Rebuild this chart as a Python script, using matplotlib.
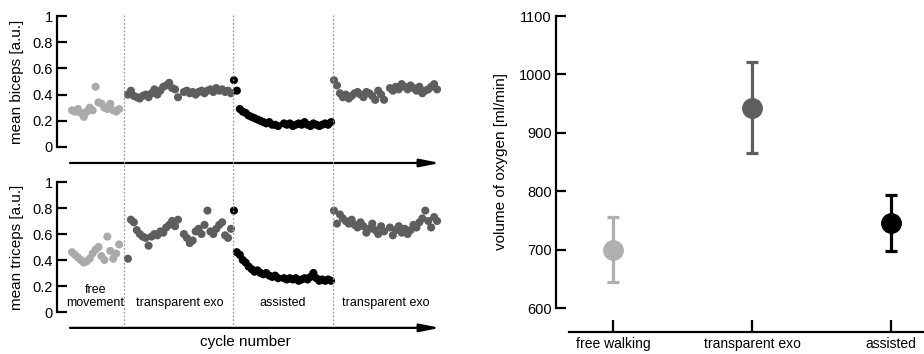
import numpy as np
import matplotlib
matplotlib.use("Agg")
import matplotlib.pyplot as plt
from matplotlib import transforms
from matplotlib.lines import Line2D

plt.rcParams['font.family'] = ['Liberation Sans', 'DejaVu Sans']

nan = np.nan

# per-cycle mean EMG, one list per phase (nan = missing cycle)
phases = ["free\nmovement", "transparent exo", "assisted", "transparent exo"]
phase_colors = ["#aaaaaa", "#5e5e5e", "#000000", "#5e5e5e"]
phase_gap = [0, 2, 0, 0]  # cycles skipped before each phase

biceps = [
    [0.28, 0.27, 0.29, 0.26, 0.23, 0.27, 0.30, 0.28, 0.46, 0.34, 0.33, 0.30,
     0.29, 0.33, 0.28, 0.27, 0.29],
    [0.40, 0.43, 0.39, 0.38, 0.37, 0.39, 0.40, 0.38, 0.41, 0.44, 0.40, 0.43,
     0.46, 0.47, 0.49, 0.45, 0.44, 0.38, nan, 0.42, 0.43, 0.41, 0.42, 0.40,
     0.42, 0.43, 0.41, 0.43, 0.44, 0.42, 0.45, 0.43, 0.44, 0.42, 0.43, 0.41],
    [0.51, 0.43, 0.29, 0.27, 0.26, 0.24, 0.23, 0.22, 0.21, 0.20, 0.19, 0.18,
     0.19, 0.17, 0.17, 0.16, nan, 0.18, 0.17, 0.18, 0.16, 0.17, 0.18, 0.17,
     0.19, 0.17, 0.16, 0.18, 0.17, 0.16, 0.17, 0.18, 0.17, 0.19],
    [0.51, 0.47, 0.41, 0.38, 0.40, 0.37, 0.39, 0.41, 0.42, 0.40, 0.38, 0.42,
     0.41, 0.39, 0.36, 0.43, 0.40, 0.36, nan, 0.45, 0.43, 0.46, 0.44, 0.48,
     0.46, 0.44, 0.47, 0.45, 0.43, 0.46, 0.41, 0.43, 0.44, 0.46, 0.48, 0.44],
]
triceps = [
    [0.46, 0.44, 0.42, 0.40, 0.38, 0.39, 0.41, 0.45, 0.48, 0.50, 0.43, 0.40,
     0.58, 0.47, 0.41, 0.45, 0.52],
    [0.41, 0.71, 0.69, 0.63, 0.60, 0.58, 0.57, 0.51, 0.58, 0.60, 0.59, 0.62,
     0.61, 0.65, 0.67, 0.70, 0.66, 0.71, nan, 0.60, 0.57, 0.53, 0.55, 0.62,
     0.64, 0.60, 0.67, 0.78, 0.62, 0.60, 0.64, 0.67, 0.69, 0.59, 0.57, 0.64],
    [0.78, 0.46, 0.44, 0.40, 0.38, 0.35, 0.33, 0.31, 0.32, 0.30, 0.29, 0.30,
     0.28, 0.27, 0.28, 0.26, nan, 0.26, 0.25, 0.26, 0.25, 0.26, 0.24, 0.25,
     0.26, 0.25, 0.27, 0.30, 0.26, 0.24, 0.25, 0.24, 0.25, 0.24],
    [0.78, 0.68, 0.75, 0.72, 0.70, 0.68, 0.71, 0.67, 0.65, 0.69, 0.66, 0.61,
     0.64, 0.68, 0.63, 0.60, 0.66, 0.62, nan, 0.65, 0.59, 0.63, 0.66, 0.61,
     0.64, 0.60, 0.63, 0.67, 0.65, 0.69, 0.72, 0.78, 0.70, 0.65, 0.73, 0.70],
]
boundaries = [17.5, 54.7, 88.6]

# oxygen consumption
conditions = ["free walking", "transparent exo", "assisted"]
vo2_mean = [700, 943, 745]
vo2_low = [645, 865, 698]
vo2_high = [755, 1022, 793]
cond_colors = ["#b0b0b0", "#5e5e5e", "#000000"]

# cycle numbers for each phase
cycles = []
start = 0
for vals, g in zip(biceps, phase_gap):
    start += g
    cycles.append(np.arange(start, start + len(vals)))
    start += len(vals)

W, H = 924, 354
fig = plt.figure(figsize=(W / 100, H / 100), dpi=100)


def px_axes(x0, y0, x1, y1):
    # pixel box (top-left origin) -> figure axes
    return fig.add_axes([x0 / W, 1 - y1 / H, (x1 - x0) / W, (y1 - y0) / H])


def style_left(ax):
    for s in ["top", "right", "bottom"]:
        ax.spines[s].set_visible(False)
    ax.spines["left"].set_linewidth(1.6)
    ax.tick_params(axis="y", direction="in", length=7, width=1.6,
                   labelsize=10.5, pad=3)
    ax.tick_params(axis="x", bottom=False, labelbottom=False)


ax_b = px_axes(57, 16, 445, 147)
ax_t = px_axes(57, 182, 445, 312)

for ax, data, lab in [(ax_b, biceps, "mean biceps [a.u.]"),
                      (ax_t, triceps, "mean triceps [a.u.]")]:
    for x, vals, c in zip(cycles, data, phase_colors):
        ax.scatter(x, vals, s=34, color=c, edgecolors="none", zorder=3,
                   clip_on=False)
    ax.set_xlim(-5.1, 126.7)
    ax.set_ylim(0, 1)
    ax.set_yticks([0, 0.2, 0.4, 0.6, 0.8, 1])
    ax.set_yticklabels(["0", "0.2", "0.4", "0.6", "0.8", "1"])
    style_left(ax)
    ax.set_ylabel(lab, fontsize=11)
    ax.yaxis.set_label_coords(-0.085, 0.5)
    ax.annotate("", xy=(125, -0.122), xytext=(-0.7, -0.122),
                arrowprops=dict(arrowstyle="-|>,head_length=1.0,head_width=0.2",
                                color="black", lw=1.6, mutation_scale=12,
                                shrinkA=0, shrinkB=0),
                annotation_clip=False)

# phase dividers across both panels
tr = transforms.blended_transform_factory(ax_t.transData, fig.transFigure)
for b in boundaries:
    fig.add_artist(Line2D([b, b], [1 - 15 / H, 1 - 325 / H], transform=tr,
                          color="#9a9a9a", lw=0.9, ls=(0, (1.5, 1.5))))

for x, name in zip(cycles, phases):
    ax_t.text((x[0] + x[-1]) / 2, 0.025, name, ha="center", va="bottom",
              fontsize=9, linespacing=1.1)

fig.text(245 / W, 1 - 342 / H, "cycle number", ha="center", va="center",
         fontsize=11)

# right panel
ax_r = px_axes(556, 16, 924, 308)
xpos = np.arange(len(conditions))
for i in xpos:
    ax_r.errorbar(xpos[i], vo2_mean[i],
                  yerr=[[vo2_mean[i] - vo2_low[i]], [vo2_high[i] - vo2_mean[i]]],
                  fmt="o", color=cond_colors[i], ms=14, elinewidth=2.3,
                  capsize=4.5, capthick=2.3, zorder=3)
ax_r.set_xlim(-0.41, 2.237)
ax_r.set_ylim(600, 1100)
ax_r.set_yticks(range(600, 1101, 100))
ax_r.set_xticks(xpos)
ax_r.set_xticklabels(conditions, fontsize=11)
for s in ["top", "right"]:
    ax_r.spines[s].set_visible(False)
ax_r.spines["left"].set_linewidth(1.6)
ax_r.spines["bottom"].set_linewidth(1.6)
ax_r.spines["bottom"].set_position(("outward", 17))
ax_r.spines["bottom"].set_bounds(-0.317, 2.237)
ax_r.tick_params(axis="y", direction="in", length=7, width=1.6,
                 labelsize=10.5, pad=3)
ax_r.tick_params(axis="x", direction="in", length=9, width=1.6, pad=4)
ax_r.set_ylabel("volume of oxygen [ml/min]", fontsize=11)
ax_r.yaxis.set_label_coords(-0.13, 0.5)

fig.savefig("out.png", dpi=100)
